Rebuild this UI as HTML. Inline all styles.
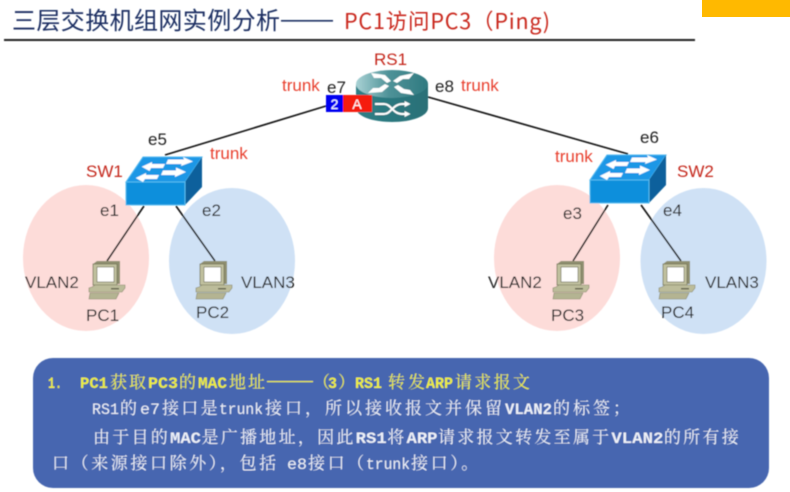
<!DOCTYPE html>
<html lang="zh">
<head>
<meta charset="utf-8">
<style>
html,body{margin:0;padding:0;background:#fff;width:790px;height:492px;overflow:hidden}
svg{display:block}
.l{font-family:"Liberation Sans",sans-serif;font-size:17px;fill:#222}
.r{font-family:"Liberation Sans",sans-serif;font-size:17px;fill:#e8402f}
.d{font-family:"Liberation Sans",sans-serif;font-size:17px;fill:#c4281c}
.c{font-family:"Noto Serif CJK SC",serif;font-size:17px;fill:#eef1f8}
.a{font-family:"Liberation Mono",monospace;font-size:15.500px;fill:#eef1f8}
.b{font-family:"Liberation Mono",monospace;font-size:15.500px;font-weight:bold;fill:#eef1f8}
.y{fill:#eeee3e}
</style>
</head>
<body>
<svg width="790" height="492" viewBox="0 0 790 492" xmlns="http://www.w3.org/2000/svg">
<defs>
<linearGradient id="rt" x1="0" y1="0" x2="1" y2="0">
<stop offset="0" stop-color="#a9d2d5"/><stop offset=".45" stop-color="#4f9298"/><stop offset="1" stop-color="#2f7a80"/>
</linearGradient>
<linearGradient id="rb" x1="0" y1="0" x2="1" y2="0">
<stop offset="0" stop-color="#2e7f86"/><stop offset="1" stop-color="#2a7077"/>
</linearGradient>
<filter id="b" x="-5%" y="-5%" width="110%" height="110%"><feGaussianBlur stdDeviation=".45"/></filter>
<marker id="ah" markerWidth="3" markerHeight="3" refX="1.2" refY="1.5" orient="auto"><path d="M0 0L3 1.5L0 3z" fill="#fff"/></marker>
<g id="sw">
<polygon points="0,25 17,0 76,0 59,25" fill="#1f97e6" stroke="#4fb8f0" stroke-width="1"/>
<polygon points="59,25 76,0 76,30 59,48" fill="#08619c"/>
<rect x="0" y="25" width="59" height="23" fill="#0d8fdc" stroke="#55bdf0" stroke-width="1"/>
<polygon points="42,2.500 58,2.500 57,0 67,4.500 55,9 55.500,7 40,7" fill="#fff"/>
<polygon points="15.700,9.700 26,5 26,7 39,7 37,11 25,11 23.500,14" fill="#fff"/>
<polygon points="9.700,21 20,16 20,18 33,18 31,22 19,22 17,25" fill="#fff"/>
<polygon points="37,13.500 50,13.500 50,10.500 60,15 49,20 49,18 35,18" fill="#fff"/>
</g>
<g id="pc">
<polygon points="4,3 8,0 31,0 31,23 4,23" fill="#8f8f6f"/>
<rect x="4" y="3" width="24" height="21" fill="#c0c09e" stroke="#77775a" stroke-width=".8"/>
<rect x="8" y="6" width="17" height="15" fill="#fff" stroke="#66664f" stroke-width=".6"/>
<polygon points="3,26 6,24 36,24 36,27 33,31 0,31 0,27" fill="#bcbc9a" stroke="#88886a" stroke-width=".6"/>
<polygon points="1,32 30,32 27,38 0,38" fill="#b4b492" stroke="#88886a" stroke-width=".6"/>
<rect x="22" y="27" width="8" height="1.500" fill="#66664f"/>
</g>
</defs>

<rect x="702" y="0" width="88" height="17" fill="#ffb900"/>

<g filter="url(#b)">
<text x="12" y="29" font-family="'Noto Sans CJK SC',sans-serif" font-size="24" fill="#1a2f62" textLength="268">三层交换机组网实例分析</text>
<rect x="281" y="20" width="52" height="1.600" fill="#1a2f62"/>
<text x="344" y="29" font-family="'Noto Sans CJK SC',sans-serif" font-size="21.500" fill="#c9281d" textLength="206">PC1访问PC3（Ping)</text>
<rect x="4" y="39" width="691" height="2" fill="#222"/>

<ellipse cx="86" cy="258" rx="63" ry="73" fill="#fddcd9"/>
<ellipse cx="232" cy="261" rx="63" ry="73" fill="#cfe1f5"/>
<ellipse cx="557" cy="258" rx="63" ry="73" fill="#fddcd9"/>
<ellipse cx="703.500" cy="261" rx="63" ry="73" fill="#cfe1f5"/>

<g stroke="#111" stroke-width="1.600" fill="none">
<line x1="326" y1="106" x2="165" y2="155"/>
<line x1="428" y1="97" x2="628" y2="154"/>
<line x1="144" y1="206" x2="107" y2="261"/>
<line x1="176" y1="206" x2="215" y2="261"/>
<line x1="608" y1="205" x2="573" y2="261"/>
<line x1="641" y1="205" x2="681" y2="261"/>
</g>

<!-- router -->
<path d="M356 84V108C356 116 372 122 392 122S428 116 428 108V84Z" fill="url(#rb)"/>
<ellipse cx="392" cy="84" rx="36" ry="14" fill="url(#rt)"/>
<g fill="#fff">
<polygon points="371,73 385,75 391,81 387,83 381,78 374,78"/>
<polygon points="414,73 400,76 393,81 397,83 403,79 409,79"/>
<polygon points="368,93 382,92 389,86 385,84 379,88 373,88"/>
<polygon points="414,95 401,93 394,87 398,85 404,89 410,90"/>
</g>
<g stroke="#fff" stroke-width="2" fill="none" marker-end="url(#ah)">
<path d="M375 104H384C391 104 393 114 402 114H407"/>
<path d="M375 114H384C391 114 393 104 402 104H407"/>
</g>
<rect x="326" y="95" width="17" height="17" fill="#0000f0"/>
<rect x="343" y="95" width="29" height="17" fill="#f51d10"/>
<text x="334.500" y="109" text-anchor="middle" font-family="'Liberation Sans',sans-serif" font-size="14" fill="#fff">2</text>
<text x="357" y="109" text-anchor="middle" font-family="'Liberation Sans',sans-serif" font-size="14" fill="#fff">A</text>

<use href="#sw" x="126" y="157"/>
<use href="#sw" x="590" y="155"/>

<use href="#pc" x="89" y="261"/>
<use href="#pc" x="196" y="261"/>
<use href="#pc" x="553" y="261"/>
<use href="#pc" x="659" y="261"/>

<text class="d" x="374" y="65">RS1</text>
<text class="r" x="282" y="91">trunk</text>
<text class="l" x="327" y="93">e7</text>
<text class="l" x="435" y="92">e8</text>
<text class="r" x="461" y="91">trunk</text>
<text class="l" x="148" y="145">e5</text>
<text class="r" x="210" y="159">trunk</text>
<text class="d" x="86" y="177">SW1</text>
<text class="l" x="100" y="216">e1</text>
<text class="l" x="202" y="216">e2</text>
<text class="l" x="25" y="288">VLAN2</text>
<text class="l" x="241" y="288">VLAN3</text>
<text class="l" x="86" y="321">PC1</text>
<text class="l" x="196" y="318">PC2</text>
<text class="l" x="640" y="143">e6</text>
<text class="r" x="555" y="162">trunk</text>
<text class="d" x="677" y="177">SW2</text>
<text class="l" x="563" y="219">e3</text>
<text class="l" x="663" y="216">e4</text>
<text class="l" x="488" y="288">VLAN2</text>
<text class="l" x="705" y="288">VLAN3</text>
<text class="l" x="551" y="321">PC3</text>
<text class="l" x="661" y="318">PC4</text>

<rect x="33" y="358" width="736" height="130" rx="20" ry="20" fill="#4666b0"/>

<!-- line 1 -->
<g>
<text class="b y" x="48" y="388" textLength="14" lengthAdjust="spacingAndGlyphs">1.</text>
<text class="b y" x="80" y="388" textLength="28" lengthAdjust="spacingAndGlyphs">PC1</text>
<text class="c y" x="110" y="388" letter-spacing="2">获取</text>
<text class="b y" x="148" y="388" textLength="30" lengthAdjust="spacingAndGlyphs">PC3</text>
<text class="c y" x="179" y="388">的</text>
<text class="b y" x="198" y="388" textLength="29" lengthAdjust="spacingAndGlyphs">MAC</text>
<text class="c y" x="229" y="388" letter-spacing="2">地址</text>
<rect x="267" y="381" width="46" height="1.200" fill="#eeee3e"/>
<text class="c y" x="313" y="388">（</text>
<text class="b y" x="328" y="388" textLength="9" lengthAdjust="spacingAndGlyphs">3</text>
<text class="c y" x="338" y="388">）</text>
<text class="b y" x="355" y="388" textLength="27" lengthAdjust="spacingAndGlyphs">RS1</text>
<text class="c y" x="388" y="388" letter-spacing="3">转发</text>
<text class="b y" x="426" y="388" textLength="27" lengthAdjust="spacingAndGlyphs">ARP</text>
<text class="c y" x="455" y="388" letter-spacing="2.300">请求报文</text>
</g>

<!-- line 2 -->
<g>
<text class="a" x="92" y="414" textLength="27" lengthAdjust="spacingAndGlyphs">RS1</text>
<text class="c" x="120" y="414">的</text>
<text class="a" x="140" y="414" textLength="20" lengthAdjust="spacingAndGlyphs">e7</text>
<text class="c" x="162" y="414" letter-spacing="2.300">接口是</text>
<text class="a" x="219" y="414" textLength="44" lengthAdjust="spacingAndGlyphs">trunk</text>
<text class="c" x="265" y="414" letter-spacing="3">接口，所以接收报文并保留</text>
<text class="b" x="505" y="414" textLength="47" lengthAdjust="spacingAndGlyphs">VLAN2</text>
<text class="c" x="553" y="414" letter-spacing="3">的标签；</text>
</g>

<!-- line 3 -->
<g>
<text class="c" x="93" y="443" letter-spacing="2.270">由于目的</text>
<text class="b" x="170" y="443" textLength="31" lengthAdjust="spacingAndGlyphs">MAC</text>
<text class="c" x="201.500" y="443" letter-spacing="2.270">是广播地址，因此</text>
<text class="b" x="355.700" y="443" textLength="31" lengthAdjust="spacingAndGlyphs">RS1</text>
<text class="c" x="387.200" y="443">将</text>
<text class="b" x="406.500" y="443" textLength="31" lengthAdjust="spacingAndGlyphs">ARP</text>
<text class="c" x="438" y="443" letter-spacing="2.270">请求报文转发至属于</text>
<text class="b" x="611.400" y="443" textLength="52" lengthAdjust="spacingAndGlyphs">VLAN2</text>
<text class="c" x="663.900" y="443" letter-spacing="2.270">的所有接</text>
</g>

<!-- line 4 -->
<g>
<text class="c" x="52" y="469" letter-spacing="2.600">口（来源接口除外），包括</text>
<text class="a" x="287" y="469" textLength="20" lengthAdjust="spacingAndGlyphs">e8</text>
<text class="c" x="308" y="469" letter-spacing="2.600">接口（</text>
<text class="a" x="366" y="469" textLength="44" lengthAdjust="spacingAndGlyphs">trunk</text>
<text class="c" x="411" y="469" letter-spacing="2.600">接口）。</text>
</g>
</g>
</svg>
</body>
</html>
